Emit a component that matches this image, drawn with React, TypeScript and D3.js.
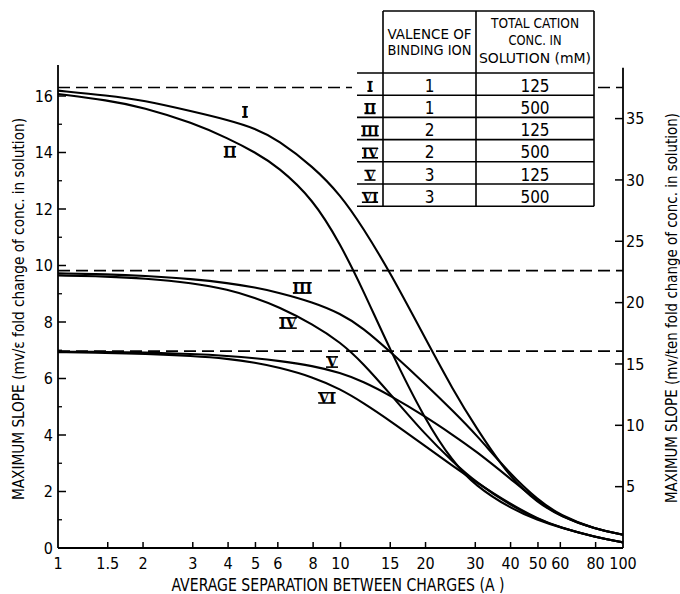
import { useEffect, useRef } from "react";
import * as d3 from "d3";

// separations (A) at which the curves were read
const separations = [1, 1.5, 2, 3, 4, 5, 6, 8, 10, 12, 15, 20, 25, 30, 40, 50, 60, 80, 100];

const curveI = [16.19, 16.02, 15.85, 15.45, 15.15, 14.85, 14.45, 13.5, 12.5, 11.35, 9.75, 7.4, 5.6, 4.3, 2.45, 1.6, 1.12, 0.66, 0.47];
const curveII = [16.07, 15.85, 15.6, 15.05, 14.5, 14.0, 13.5, 12.35, 10.75, 9.15, 7.0, 4.5, 3.05, 2.2, 1.4, 0.98, 0.72, 0.38, 0.2];
const curveIII = [9.72, 9.69, 9.64, 9.52, 9.38, 9.22, 9.05, 8.7, 8.3, 7.8, 6.95, 5.8, 4.85, 4.05, 2.6, 1.7, 1.15, 0.66, 0.47];
const curveIV = [9.65, 9.61, 9.55, 9.38, 9.15, 8.85, 8.55, 7.92, 7.28, 6.55, 5.45, 4.0, 3.05, 2.35, 1.5, 1.02, 0.72, 0.38, 0.2];
const curveV = [6.95, 6.94, 6.92, 6.87, 6.8, 6.72, 6.63, 6.45, 6.2, 5.9, 5.4, 4.65, 4.0, 3.45, 2.45, 1.65, 1.12, 0.66, 0.47];
const curveVI = [6.93, 6.91, 6.88, 6.8, 6.7, 6.56, 6.4, 6.05, 5.62, 5.15, 4.5, 3.6, 2.9, 2.35, 1.55, 1.03, 0.72, 0.38, 0.2];

const curveNames = ["I", "II", "III", "IV", "V", "VI"];
// where each roman label sits (separation, slope)
const labelSep = [4.59, 4.06, 7.32, 6.52, 9.33, 8.95];
const labelSlope = [15.43, 14.02, 9.2, 7.96, 6.58, 5.31];

// theoretical limits, mv per e-fold
const limits = [16.3, 9.82, 6.97];

const valences = ["1", "1", "2", "2", "3", "3"];
const cationConc = ["125", "500", "125", "500", "125", "500"];

const xTicks = [1, 1.5, 2, 3, 4, 5, 6, 8, 10, 15, 20, 30, 40, 50, 60, 80, 100];
const leftTicks = [0, 2, 4, 6, 8, 10, 12, 14, 16];
const leftMinor = [1, 3, 5, 7, 9, 11, 13, 15];
const rightTicks = [5, 10, 15, 20, 25, 30, 35];

const FONT = "'Liberation Sans Narrow', 'DejaVu Sans Condensed', 'Liberation Sans', sans-serif";
const ROMAN = "'DejaVu Serif', 'Liberation Serif', serif";

// roman numeral with the bars on top and bottom, baseline at (cx, by)
function roman(g: any, cx: number, by: number, s: string, size: number) {
    const txt = g
        .append("text")
        .attr("x", cx)
        .attr("y", by)
        .attr("text-anchor", "middle")
        .attr("font-family", ROMAN)
        .attr("font-weight", "bold")
        .attr("font-size", size)
        .text(s);
    const w = txt.node().getBBox().width;
    const cap = size * 0.73;
    [by - cap, by].forEach((yy) =>
        g.append("line")
            .attr("x1", cx - w / 2 + 0.5)
            .attr("x2", cx + w / 2 - 0.5)
            .attr("y1", yy)
            .attr("y2", yy)
            .attr("stroke", "#000")
            .attr("stroke-width", 1.6)
    );
}

export default function App() {
    const svgRef = useRef<SVGSVGElement>(null);

    useEffect(() => {
        const svg = d3.select(svgRef.current);
        svg.selectAll("*").remove();

        const left = 58, right = 623, bottom = 548, top = 67.75;

        const x = d3.scaleLog().domain([1, 100]).range([left, right]);
        const y = d3.scaleLinear().domain([0, 17]).range([bottom, top]);
        const yRight = d3.scaleLinear().domain([0, 17 * Math.LN10]).range([bottom, top]);

        // dashed limit lines
        svg.append("g")
            .selectAll("line")
            .data(limits)
            .join("line")
            .attr("x1", left)
            .attr("x2", right)
            .attr("y1", (d) => y(d))
            .attr("y2", (d) => y(d))
            .attr("stroke", "#000")
            .attr("stroke-width", 1.6)
            .attr("stroke-dasharray", "12 6");

        // curves
        const all = [curveI, curveII, curveIII, curveIV, curveV, curveVI];
        const myLine = d3
            .line<number>()
            .x((_, i) => x(separations[i]))
            .y((d) => y(d))
            .curve(d3.curveBasis);

        svg.append("g")
            .selectAll("path")
            .data(all)
            .join("path")
            .attr("d", (d) => myLine(d))
            .attr("fill", "none")
            .attr("stroke", "#000")
            .attr("stroke-width", 2.1);

        // curve labels
        const lab = svg.append("g");
        curveNames.forEach((s, i) => roman(lab, x(labelSep[i]), y(labelSlope[i]) + 5, s, 14));

        // axes frame
        const axes = svg.append("g").attr("stroke", "#000").attr("stroke-width", 1.8);
        axes.append("line").attr("x1", left).attr("x2", right).attr("y1", bottom).attr("y2", bottom);
        axes.append("line").attr("x1", left).attr("x2", left).attr("y1", bottom).attr("y2", 65);
        axes.append("line").attr("x1", right).attr("x2", right).attr("y1", bottom).attr("y2", top);

        // bottom ticks (inward)
        svg.append("g")
            .selectAll("line")
            .data(xTicks.slice(1, -1))
            .join("line")
            .attr("x1", (d) => x(d))
            .attr("x2", (d) => x(d))
            .attr("y1", bottom)
            .attr("y2", bottom - 6)
            .attr("stroke", "#000")
            .attr("stroke-width", 1.5);

        svg.append("g")
            .selectAll("text")
            .data(xTicks)
            .join("text")
            .attr("x", (d) => x(d))
            .attr("y", 569)
            .attr("text-anchor", "middle")
            .attr("font-family", FONT)
            .attr("font-size", 16)
            .text((d) => String(d));

        // left ticks
        svg.append("g")
            .selectAll("line")
            .data(leftTicks.slice(1))
            .join("line")
            .attr("x1", left)
            .attr("x2", left + 8)
            .attr("y1", (d) => y(d))
            .attr("y2", (d) => y(d))
            .attr("stroke", "#000")
            .attr("stroke-width", 1.5);
        svg.append("g")
            .selectAll("line")
            .data(leftMinor)
            .join("line")
            .attr("x1", left)
            .attr("x2", left + 4)
            .attr("y1", (d) => y(d))
            .attr("y2", (d) => y(d))
            .attr("stroke", "#000")
            .attr("stroke-width", 1.3);
        svg.append("g")
            .selectAll("text")
            .data(leftTicks)
            .join("text")
            .attr("x", left - 5)
            .attr("y", (d) => y(d))
            .attr("dy", "0.36em")
            .attr("text-anchor", "end")
            .attr("font-family", FONT)
            .attr("font-size", 16)
            .text((d) => String(d));

        // right ticks
        svg.append("g")
            .selectAll("line")
            .data(rightTicks)
            .join("line")
            .attr("x1", right)
            .attr("x2", right - 8)
            .attr("y1", (d) => yRight(d))
            .attr("y2", (d) => yRight(d))
            .attr("stroke", "#000")
            .attr("stroke-width", 1.5);
        svg.append("g")
            .selectAll("text")
            .data(rightTicks)
            .join("text")
            .attr("x", right + 3)
            .attr("y", (d) => yRight(d))
            .attr("dy", "0.36em")
            .attr("font-family", FONT)
            .attr("font-size", 16)
            .text((d) => String(d));

        // axis titles
        svg.append("text")
            .attr("x", 338)
            .attr("y", 591)
            .attr("text-anchor", "middle")
            .attr("font-family", FONT)
            .attr("font-size", 17)
            .attr("textLength", 333)
            .attr("lengthAdjust", "spacingAndGlyphs")
            .text("AVERAGE SEPARATION BETWEEN CHARGES (A )");

        svg.append("text")
            .attr("transform", "translate(24,309) rotate(-90)")
            .attr("text-anchor", "middle")
            .attr("font-family", FONT)
            .attr("font-size", 15.5)
            .attr("textLength", 382)
            .attr("lengthAdjust", "spacingAndGlyphs")
            .text("MAXIMUM SLOPE (mv/ε fold change of conc. in solution)");

        svg.append("text")
            .attr("transform", "translate(677,308) rotate(-90)")
            .attr("text-anchor", "middle")
            .attr("font-family", FONT)
            .attr("font-size", 15.5)
            .attr("textLength", 390)
            .attr("lengthAdjust", "spacingAndGlyphs")
            .text("MAXIMUM SLOPE (mv/ten fold change of conc. in solution)");

        // legend table
        const t = svg.append("g");
        const tx0 = 357, tx1 = 383, tx2 = 476, tx3 = 594;
        const ty0 = 11, tyH = 73, rowH = 22.2;
        const tyEnd = tyH + rowH * curveNames.length;
        t.append("rect")
            .attr("x", tx0 - 5)
            .attr("y", ty0)
            .attr("width", tx3 - tx0 + 5)
            .attr("height", tyEnd - ty0)
            .attr("fill", "#fff");
        const tl = t.append("g").attr("stroke", "#000").attr("stroke-width", 1.6);
        tl.append("line").attr("x1", tx1).attr("x2", tx3).attr("y1", ty0).attr("y2", ty0);
        [tx1, tx2, tx3].forEach((vx) =>
            tl.append("line").attr("x1", vx).attr("x2", vx).attr("y1", ty0).attr("y2", tyEnd)
        );
        d3.range(curveNames.length + 1).forEach((i) =>
            tl.append("line")
                .attr("x1", tx0)
                .attr("x2", tx3)
                .attr("y1", tyH + i * rowH)
                .attr("y2", tyH + i * rowH)
        );

        const header = [
            { x: (tx1 + tx2) / 2, y: 38.5, s: "VALENCE OF", w: 84, f: 14 },
            { x: (tx1 + tx2) / 2, y: 55, s: "BINDING ION", w: 84, f: 14 },
            { x: (tx2 + tx3) / 2, y: 28, s: "TOTAL CATION", w: 88, f: 14.5 },
            { x: (tx2 + tx3) / 2, y: 45, s: "CONC. IN", w: 53, f: 14.5 },
            { x: (tx2 + tx3) / 2, y: 62.5, s: "SOLUTION (mM)", w: 112, f: 14.5 },
        ];
        t.append("g")
            .selectAll("text")
            .data(header)
            .join("text")
            .attr("x", (d) => d.x)
            .attr("y", (d) => d.y)
            .attr("text-anchor", "middle")
            .attr("font-family", FONT)
            .attr("font-size", (d) => d.f)
            .attr("textLength", (d) => d.w)
            .attr("lengthAdjust", "spacingAndGlyphs")
            .text((d) => d.s);

        const rowY = (i: number) => tyH + (i + 1) * rowH - 4;
        curveNames.forEach((s, i) => roman(t, (tx0 + tx1) / 2, rowY(i), s, 13));
        t.append("g")
            .selectAll("text")
            .data(valences)
            .join("text")
            .attr("x", (tx1 + tx2) / 2)
            .attr("y", (_, i) => rowY(i) + 0.5)
            .attr("text-anchor", "middle")
            .attr("font-family", FONT)
            .attr("font-size", 17)
            .text((d) => d);
        t.append("g")
            .selectAll("text")
            .data(cationConc)
            .join("text")
            .attr("x", (tx2 + tx3) / 2)
            .attr("y", (_, i) => rowY(i) + 0.5)
            .attr("text-anchor", "middle")
            .attr("font-family", FONT)
            .attr("font-size", 17)
            .text((d) => d);
    }, []);

    return (
        <svg
            ref={svgRef}
            width={680}
            height={594}
            style={{ position: "absolute", left: 0, top: 0, background: "#fff" }}
        />
    );
}
